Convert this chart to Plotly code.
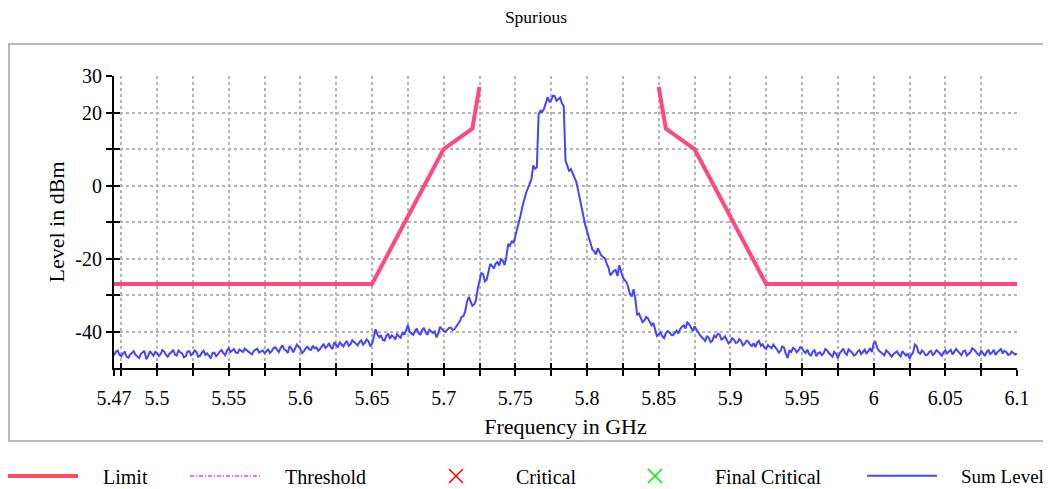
import numpy as np
import plotly.graph_objects as go

# ---------------- data ----------------
F_START, F_STOP = 5.47, 6.10  # GHz sweep, 505 sweep points

sum_level = [
    # 5.47 - 5.55
    -46.5, -45.6, -45.2, -46.3, -46.8, -46.0, -45.6, -46.9, -47.2, -46.3,
    -45.9, -45.4, -46.4, -47.0, -47.3, -46.2, -45.8, -45.3, -47.6, -46.8,
    -45.4, -45.9, -46.6, -45.6, -45.9, -46.7, -46.2, -45.1, -45.5, -46.4,
    -46.9, -46.1, -45.7, -45.0, -46.3, -46.6, -45.2, -45.7, -46.0, -47.1,
    -46.8, -45.5, -45.4, -46.5, -46.1, -45.2, -45.6, -46.9, -46.7, -45.8,
    -45.3, -46.4, -46.0, -46.6, -47.4, -45.9, -45.8, -46.8, -46.3, -45.5,
    -45.1, -45.9, -46.5, -45.3, -44.6,
    # 5.55 - 5.60
    -45.6, -45.2, -44.8, -45.8, -45.9, -44.9, -45.3, -45.6, -44.7, -45.1,
    -45.4, -46.0, -46.3, -45.3, -45.0, -44.7, -45.8, -45.5, -45.2, -45.9,
    -45.5, -44.8, -45.9, -45.4, -44.6, -44.3, -45.0, -45.6, -44.5, -43.8,
    -44.9, -45.2, -45.9, -44.0, -44.6, -45.7, -44.8, -43.6, -44.1, -44.8,
    # 5.60 - 5.65
    -45.9, -45.4, -44.6, -44.2, -44.9, -45.0, -43.9, -44.6, -44.4, -45.3,
    -44.8, -43.9, -43.4, -44.5, -44.1, -43.2, -44.3, -44.8, -42.9, -43.7,
    -44.2, -43.0, -43.6, -44.1, -43.2, -42.6, -43.9, -43.5, -42.4, -42.9,
    -43.4, -43.8, -42.9, -42.4, -43.6, -43.1, -42.2, -42.7, -43.9, -43.4,
    # 5.65 - 5.70
    -41.5, -39.4, -40.8, -41.6, -41.0, -42.3, -42.5, -41.2, -40.6, -42.0,
    -41.1, -41.4, -42.2, -40.8, -41.3, -41.7, -40.2, -40.9, -39.8, -38.2,
    -40.1, -40.6, -40.9, -39.8, -39.2, -40.5, -40.8, -39.6, -39.0, -40.3,
    -40.9, -39.5, -39.9, -40.4, -40.0, -41.6, -40.5, -38.7, -39.3, -39.9,
    # 5.70 - 5.75
    -40.1, -39.5, -39.0, -38.9, -39.6, -39.4, -38.6, -37.8, -37.2, -36.0,
    -35.8, -34.5, -31.9, -30.5, -31.6, -33.0, -32.6, -31.5, -28.3, -26.5,
    -24.0, -24.3, -26.2, -25.8, -23.4, -21.5, -22.0, -22.8, -21.4, -21.0,
    -21.9, -20.2, -20.6, -21.8, -19.5, -16.0, -16.5, -15.2, -15.8, -14.0,
    # 5.75 - 5.80
    -12.0, -10.5, -8.0, -5.7, -3.5, -2.0, -0.8, 0.5, 1.8, 5.5,
    4.6, 5.0, 19.5, 20.5, 20.2, 21.0, 23.0, 24.2, 23.0, 23.4,
    24.6, 24.5, 23.2, 23.6, 24.1, 22.5, 21.8, 6.8, 5.2, 4.0,
    4.5, 3.2, 2.0, 1.0, -1.2, -3.5, -5.8, -9.0, -10.8, -12.5,
    # 5.80 - 5.85
    -14.0, -15.5, -17.6, -18.0, -18.9, -17.2, -18.4, -19.2, -19.6, -20.0,
    -21.4, -22.5, -24.6, -24.0, -23.4, -23.2, -24.8, -21.8, -23.9, -25.2,
    -25.9, -26.5, -27.8, -29.8, -30.4, -28.4, -31.2, -35.5, -35.1, -36.2,
    -37.4, -37.0, -36.0, -36.4, -37.5, -38.3, -37.6, -39.5, -41.2, -40.8,
    # 5.85 - 5.90
    -40.2, -41.3, -41.8, -40.5, -39.9, -40.2, -40.9, -41.0, -40.4, -39.8,
    -40.5, -39.3, -38.7, -38.3, -39.2, -37.5, -38.0, -39.0, -39.8, -38.6,
    -39.5, -40.2, -41.0, -41.5, -42.1, -42.6, -41.2, -41.8, -42.9, -42.5,
    -41.1, -41.6, -40.6, -40.8, -42.2, -41.9, -41.3, -42.4, -43.3, -42.9,
    # 5.90 - 5.95
    -41.8, -42.2, -43.1, -43.0, -42.1, -42.6, -43.8, -43.4, -42.5, -42.8,
    -43.6, -44.0, -43.2, -44.3, -43.0, -42.6, -43.9, -43.5, -44.4, -44.8,
    -43.7, -44.2, -44.6, -43.6, -44.2, -44.9, -45.8, -45.3, -44.1, -44.4,
    -46.2, -47.3, -45.1, -45.6, -44.5, -44.8, -45.7, -45.2, -44.3, -44.6,
    # 5.95 - 6.00
    -45.4, -45.9, -45.0, -46.2, -46.6, -45.5, -45.1, -46.8, -45.9, -45.7,
    -46.5, -46.0, -44.8, -45.2, -45.9, -46.4, -46.9, -45.6, -46.1, -47.3,
    -46.0, -45.4, -44.7, -45.9, -46.4, -44.9, -45.3, -45.8, -46.6, -46.3,
    -45.5, -45.1, -46.2, -45.7, -45.0, -46.1, -45.3, -44.6, -45.6, -43.2,
    # 6.00 - 6.05
    -42.9, -44.5, -45.3, -45.8, -46.1, -46.5, -45.2, -45.6, -46.3, -46.9,
    -46.2, -45.9, -45.4, -46.3, -46.8, -45.4, -45.9, -46.6, -46.0, -47.4,
    -46.4, -45.8, -43.6, -44.0, -45.7, -46.1, -45.2, -45.7, -46.5, -46.4,
    -45.6, -45.3, -46.4, -46.0, -45.1, -45.6, -46.0, -46.8, -45.7, -45.2,
    # 6.05 - 6.10
    -46.0, -45.5, -45.0, -46.3, -45.6, -44.8, -45.4, -46.0, -46.5, -45.4,
    -45.2, -46.6, -46.1, -45.7, -44.6, -44.9, -45.5, -46.2, -46.5, -45.3,
    -45.9, -46.7, -45.7, -45.0, -46.2, -45.8, -45.0, -46.4, -45.7, -45.1,
    -44.8, -46.0, -45.3, -45.6, -46.4, -46.3, -45.5, -45.9, -46.3, -46.1,
]
freq = np.linspace(F_START, F_STOP, len(sum_level))

limit_freq = [5.47, 5.65, 5.70, 5.72, 5.725, None, 5.85, 5.855, 5.875, 5.925, 6.10]
limit_level = [-27, -27, 10, 15.6, 27, None, 27, 15.6, 10, -27, -27]
threshold_freq = limit_freq
threshold_level = limit_level

x_tick_vals = [5.47, 5.475, 5.5, 5.525, 5.55, 5.575, 5.6, 5.625, 5.65, 5.675, 5.7,
               5.725, 5.75, 5.775, 5.8, 5.825, 5.85, 5.875, 5.9, 5.925, 5.95,
               5.975, 6.0, 6.025, 6.05, 6.075, 6.1]
x_tick_text = ["5.47", "", "5.5", "", "5.55", "", "5.6", "", "5.65", "", "5.7",
               "", "5.75", "", "5.8", "", "5.85", "", "5.9", "", "5.95",
               "", "6", "", "6.05", "", "6.1"]
y_tick_vals = [30, 20, 10, 0, -10, -20, -30, -40]
y_tick_text = ["30", "20", "", "0", "", "-20", "", "-40"]

# ---------------- figure ----------------
# the page body adds an 8px margin, so figure coordinates = screen - 8
FONT = "Liberation Serif"
W, H = 1043, 481
ML, MT, MB = 106, 68, 121
MR = W - 1009
PW, PH = W - ML - MR, H - MT - MB
PAD = "\u00a0" * 4   # gap between legend symbol and its label
OFF = 8


def px_x(p):
    return (p - OFF - ML) / PW


def px_y(p):
    return 1 - (p - OFF - MT) / PH


def lname(s):
    return PAD + s


fig = go.Figure()
fig.add_trace(go.Scatter(x=limit_freq, y=limit_level, mode="lines", name=lname("Limit"),
                         line=dict(color="#ff4d5e", width=4), legend="legend"))
fig.add_trace(go.Scatter(x=threshold_freq, y=threshold_level, mode="lines",
                         name=lname("Threshold"),
                         line=dict(color="#ff33ff", width=1.5, dash="4px,2px,1px,2px"),
                         legend="legend2"))
fig.add_trace(go.Scatter(x=[None], y=[None], mode="markers", name=lname("Critical"),
                         marker=dict(symbol="x-thin-open", size=14, color="#ff0000",
                                     line=dict(width=1.5, color="#ff0000")), legend="legend3"))
fig.add_trace(go.Scatter(x=[None], y=[None], mode="markers", name=lname("Final Critical"),
                         marker=dict(symbol="x-thin-open", size=14, color="#00ee00",
                                     line=dict(width=1.5, color="#00ee00")), legend="legend4"))
fig.add_trace(go.Scatter(x=freq, y=sum_level, mode="lines", name=lname("Sum Level"),
                         line=dict(color="#4545ff", width=2), legend="legend5"))
fig.add_trace(go.Scatter(x=[None], y=[None], xaxis="x2", yaxis="y2", showlegend=False,
                         hoverinfo="skip"))

axis_common = dict(showline=True, linecolor="black", linewidth=2, ticks="outside",
                   ticklen=6, tickwidth=2, tickcolor="black", zeroline=False,
                   automargin=False,
                   showgrid=True, gridcolor="#b5b5b5", griddash="dot", gridwidth=1.5,
                   tickfont=dict(family=FONT, size=20, color="black"))

fig.update_layout(
    width=W, height=H,
    margin=dict(l=ML, r=MR, t=MT, b=MB, autoexpand=False),
    paper_bgcolor="white", plot_bgcolor="white",
    font=dict(family=FONT, color="black", size=20),
    title=dict(text="Spurious", x=(536 - OFF) / W, xref="container", xanchor="center",
               y=1 - (17 - OFF) / H, yref="container", yanchor="middle",
               font=dict(family=FONT, size=17.5, color="black")),
    xaxis=dict(range=[F_START, F_STOP], tickmode="array", tickvals=x_tick_vals,
               ticktext=x_tick_text, ticklabelstandoff=5,
               title=dict(text="Frequency in GHz", standoff=11,
                          font=dict(family=FONT, size=22)),
               **axis_common),
    yaxis=dict(range=[-50, 30], tickmode="array", tickvals=y_tick_vals,
               ticktext=y_tick_text, ticklabelstandoff=0,
               title=dict(text="Level in dBm", standoff=5,
                          font=dict(family=FONT, size=22)),
               **axis_common),
    xaxis2=dict(overlaying="x", matches="x", range=[F_START, F_STOP], tickmode="array",
                tickvals=x_tick_vals, ticks="inside", ticklen=5, tickwidth=2,
                tickcolor="black", showticklabels=False, showgrid=False,
                showline=False, zeroline=False, automargin=False),
    yaxis2=dict(overlaying="y", matches="y", range=[-50, 30], tickmode="array",
                tickvals=y_tick_vals, ticks="inside", ticklen=6, tickwidth=2,
                tickcolor="black", showticklabels=False, showgrid=False,
                showline=False, zeroline=False, automargin=False),
    shapes=[dict(type="rect", xref="paper", yref="paper",
                 x0=px_x(9), x1=px_x(1047), y0=px_y(441), y1=px_y(44),
                 line=dict(color="#b8b8b8", width=2), layer="below")],
)

leg_y = px_y(476)
leg_font = dict(family=FONT, size=20, color="black")
for key, xpix in [("legend", 3), ("legend2", 185), ("legend3", 416),
                  ("legend4", 615), ("legend5", 862)]:
    fig.update_layout(**{key: dict(x=px_x(xpix), y=leg_y, xanchor="left", yanchor="middle",
                                   xref="paper", yref="paper", orientation="h",
                                   itemwidth=70, font=leg_font, bgcolor="rgba(0,0,0,0)",
                                   borderwidth=0)})
# the legend "Sum Level" label sits at the very right edge of the page
fig.update_layout(legend5=dict(font=dict(family=FONT, size=19, color="black")))

fig.write_html(
    "out.html",
    post_script="document.documentElement.style.overflow='hidden';"
                "document.body.style.overflow='hidden';",
)
